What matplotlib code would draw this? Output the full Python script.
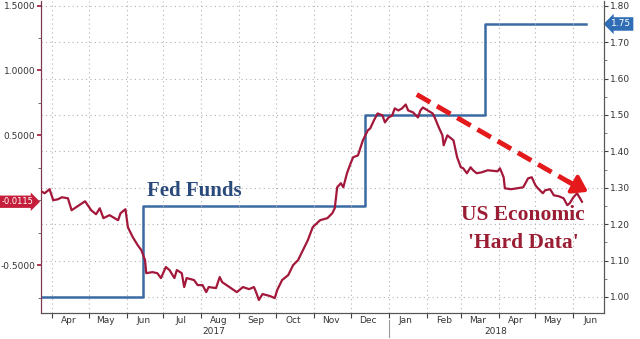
import matplotlib
matplotlib.use("Agg")
import matplotlib.pyplot as plt
import matplotlib.dates as mdates
import matplotlib.transforms as mtransforms
import numpy as np
import pandas as pd

# US economic "hard data" surprise index (left axis)
hard_dates = [
    "2017-03-23", "2017-03-26", "2017-03-30", "2017-04-02", "2017-04-06", "2017-04-09",
    "2017-04-14", "2017-04-17", "2017-04-22", "2017-04-28", "2017-05-03", "2017-05-07",
    "2017-05-10", "2017-05-13", "2017-05-18", "2017-05-25", "2017-05-27", "2017-05-31",
    "2017-06-02", "2017-06-06", "2017-06-10", "2017-06-13", "2017-06-16", "2017-06-17",
    "2017-06-22", "2017-06-26", "2017-06-29", "2017-07-03", "2017-07-06", "2017-07-10",
    "2017-07-12", "2017-07-16", "2017-07-18", "2017-07-20", "2017-07-26", "2017-07-29",
    "2017-08-02", "2017-08-05", "2017-08-07", "2017-08-13", "2017-08-16", "2017-08-18",
    "2017-08-24", "2017-08-30", "2017-09-04", "2017-09-09", "2017-09-13", "2017-09-15",
    "2017-09-17", "2017-09-20", "2017-09-26", "2017-09-30", "2017-10-02", "2017-10-06",
    "2017-10-08", "2017-10-11", "2017-10-15", "2017-10-19", "2017-10-23", "2017-10-27",
    "2017-10-31", "2017-11-06", "2017-11-12", "2017-11-16", "2017-11-18", "2017-11-20",
    "2017-11-23", "2017-11-25", "2017-11-28", "2017-12-01", "2017-12-03", "2017-12-07",
    "2017-12-11", "2017-12-15", "2017-12-17", "2017-12-20", "2017-12-23", "2017-12-27",
    "2017-12-29", "2018-01-01", "2018-01-04", "2018-01-06", "2018-01-09", "2018-01-12",
    "2018-01-15", "2018-01-17", "2018-01-21", "2018-01-25", "2018-01-27", "2018-01-29",
    "2018-02-02", "2018-02-06", "2018-02-08", "2018-02-11", "2018-02-14", "2018-02-15",
    "2018-02-18", "2018-02-21", "2018-02-23", "2018-02-26", "2018-03-01", "2018-03-03",
    "2018-03-06", "2018-03-09", "2018-03-11", "2018-03-14", "2018-03-18", "2018-03-23",
    "2018-03-31", "2018-04-02", "2018-04-05", "2018-04-06", "2018-04-11", "2018-04-16",
    "2018-04-21", "2018-04-25", "2018-04-28", "2018-05-01", "2018-05-03", "2018-05-07",
    "2018-05-09", "2018-05-13", "2018-05-16", "2018-05-20", "2018-05-24", "2018-05-27",
    "2018-05-29", "2018-06-01", "2018-06-04", "2018-06-08",
]
hard_vals = [
    0.069, 0.054, 0.085, 0.000, 0.008, 0.023,
    0.015, -0.077, -0.046, -0.008, -0.077, -0.108,
    -0.062, -0.138, -0.115, -0.154, -0.100, -0.069,
    -0.208, -0.285, -0.346, -0.385, -0.462, -0.562,
    -0.554, -0.562, -0.600, -0.515, -0.538, -0.600,
    -0.538, -0.562, -0.669, -0.600, -0.615, -0.654,
    -0.654, -0.708, -0.669, -0.677, -0.592, -0.631,
    -0.669, -0.708, -0.669, -0.685, -0.669, -0.715,
    -0.769, -0.723, -0.738, -0.754, -0.692, -0.615,
    -0.600, -0.577, -0.500, -0.462, -0.385, -0.308,
    -0.208, -0.154, -0.138, -0.100, -0.062, 0.100,
    0.131, 0.100, 0.208, 0.285, 0.331, 0.346,
    0.462, 0.538, 0.554, 0.615, 0.669, 0.654,
    0.600, 0.638, 0.654, 0.708, 0.692, 0.708,
    0.738, 0.692, 0.677, 0.638, 0.692, 0.715,
    0.692, 0.669, 0.631, 0.562, 0.500, 0.423,
    0.500, 0.477, 0.462, 0.331, 0.254, 0.246,
    0.208, 0.254, 0.231, 0.208, 0.215, 0.231,
    0.223, 0.246, 0.177, 0.092, 0.085, 0.092,
    0.100, 0.169, 0.177, 0.115, 0.092, 0.054,
    0.077, 0.085, 0.038, 0.031, 0.015, -0.038,
    -0.023, 0.023, 0.054, -0.0115,
]

# Fed funds upper bound (right axis), step changes
fed_dates = ["2017-03-23", "2017-06-14", "2017-12-13", "2018-03-21", "2018-06-11"]
fed_vals = [1.00, 1.25, 1.50, 1.75, 1.75]

left_ticks = [-0.5, 0.5, 1.0, 1.5]
right_ticks = [1.00, 1.10, 1.20, 1.30, 1.40, 1.50, 1.60, 1.70, 1.80]

RED = "#a3183a"
BLUE = "#3a6aa3"
ARROW = "#e4191c"
GRID = "#b0b0b0"

hd = pd.to_datetime(hard_dates)
fd = pd.to_datetime(fed_dates)

fig = plt.figure(figsize=(6.4, 3.39), dpi=100)
ax = fig.add_axes([41 / 640, 1 - 313 / 339, (604 - 41) / 640, 313 / 339 - 0.002])
ax2 = ax.twinx()
# red series on top of the right-axis grid and fed funds line
ax.set_zorder(2)
ax.patch.set_visible(False)

ax.set_xlim(pd.Timestamp("2017-03-23"), pd.Timestamp("2018-06-26"))
ax.set_ylim(-0.869, 1.538)
ax2.set_ylim(0.956, 1.814)

ax2.plot(fd, fed_vals, drawstyle="steps-post", color=BLUE, lw=1.8, zorder=3)
ax.plot(hd, hard_vals, color=RED, lw=1.6, zorder=3)

# grid: horizontal from right axis, vertical at month starts
ax2.yaxis.grid(True, color=GRID, linestyle=(0, (1, 3)), lw=0.8)
ax.xaxis.grid(True, which="major", color=GRID, linestyle=(0, (1, 3)), lw=0.8)

ax.xaxis.set_major_locator(mdates.MonthLocator())
ax.xaxis.set_major_formatter(plt.NullFormatter())
ax.xaxis.set_minor_locator(mdates.MonthLocator(bymonthday=15))
ax.xaxis.set_minor_formatter(mdates.DateFormatter("%b"))
ax.tick_params(axis="x", which="major", length=3.5, color="#444444")
ax.tick_params(axis="x", which="minor", length=0, pad=2, labelsize=6.5, labelcolor="#333333")

ax.set_yticks(left_ticks)
ax.set_yticklabels([f"{v:.4f}" for v in left_ticks])
ax.yaxis.set_minor_locator(plt.MultipleLocator(0.25))
ax.tick_params(axis="y", which="major", length=3, width=1.2, color=RED, pad=1,
               labelsize=6.5, labelcolor="#333333")
ax.tick_params(axis="y", which="minor", length=2, color="#555555")

ax2.set_yticks(right_ticks)
ax2.set_yticklabels([f"{v:.2f}" for v in right_ticks])
ax2.yaxis.set_minor_locator(plt.MultipleLocator(0.05))
ax2.tick_params(axis="y", which="major", length=3, color="#444444", pad=1,
                labelsize=6.5, labelcolor="#333333")
ax2.tick_params(axis="y", which="minor", length=2, color="#666666")

for a in (ax, ax2):
    a.spines["top"].set_visible(False)
    a.spines["bottom"].set_color("#555555")
    a.spines["right"].set_color("#555555")
    a.spines["left"].set_color("#7a3a50")

# year labels under the months, with a divider at the new year
trans = mtransforms.blended_transform_factory(ax.transData, ax.transAxes)
ax.text(pd.Timestamp("2017-08-11"), -0.058, "2017", transform=trans, ha="center",
        va="center", fontsize=6.5, color="#333333")
ax.text(pd.Timestamp("2018-03-30"), -0.058, "2018", transform=trans, ha="center",
        va="center", fontsize=6.5, color="#333333")
ax.plot([pd.Timestamp("2018-01-01")] * 2, [-0.022, -0.077], transform=trans,
        color="#999999", lw=0.8, clip_on=False)

# last value tags
ax.annotate(f"{hard_vals[-1]:.4f}", xy=(0, hard_vals[-1]), xycoords=("axes fraction", "data"),
            xytext=(-5.5, 0), textcoords="offset points", ha="right", va="center",
            fontsize=6, color="white", annotation_clip=False,
            bbox=dict(boxstyle="rarrow,pad=0.2", fc="#c41e3a", ec="none"))
ax2.annotate(f"{fed_vals[-1]:.2f}", xy=(1, fed_vals[-1]), xycoords=("axes fraction", "data"),
             xytext=(5, 0), textcoords="offset points", ha="left", va="center",
             fontsize=6.5, color="white", annotation_clip=False,
             bbox=dict(boxstyle="larrow,pad=0.25", fc="#2f6db5", ec="none"))

# trend arrow over the 2018 slide
a0 = pd.Timestamp("2018-01-24")
a1 = pd.Timestamp("2018-06-01")
ax.plot([a0, a1], [0.815, 0.12], color=ARROW, lw=3.5, linestyle=(0, (3.2, 1.6)),
        solid_capstyle="butt", zorder=4)
ax.annotate("", xy=(pd.Timestamp("2018-06-13"), 0.065), xytext=(pd.Timestamp("2018-05-28"), 0.145),
            arrowprops=dict(arrowstyle="-|>,head_length=0.9,head_width=0.6", color=ARROW,
                            lw=3, shrinkA=0, shrinkB=0), zorder=4)

serif = ["Liberation Serif", "DejaVu Serif"]
ax.text(pd.Timestamp("2017-06-18"), 0.075, "Fed Funds", family=serif, fontweight="bold",
        fontsize=15, color="#2b4a7c", ha="left", va="center")
ax.text(pd.Timestamp("2018-04-21"), -0.11, "US Economic", family=serif, fontweight="bold",
        fontsize=15.5, color="#9b1d33", ha="center", va="center")
ax.text(pd.Timestamp("2018-04-21"), -0.33, "'Hard Data'", family=serif, fontweight="bold",
        fontsize=15.5, color="#9b1d33", ha="center", va="center")

fig.savefig("out.png", dpi=100)
